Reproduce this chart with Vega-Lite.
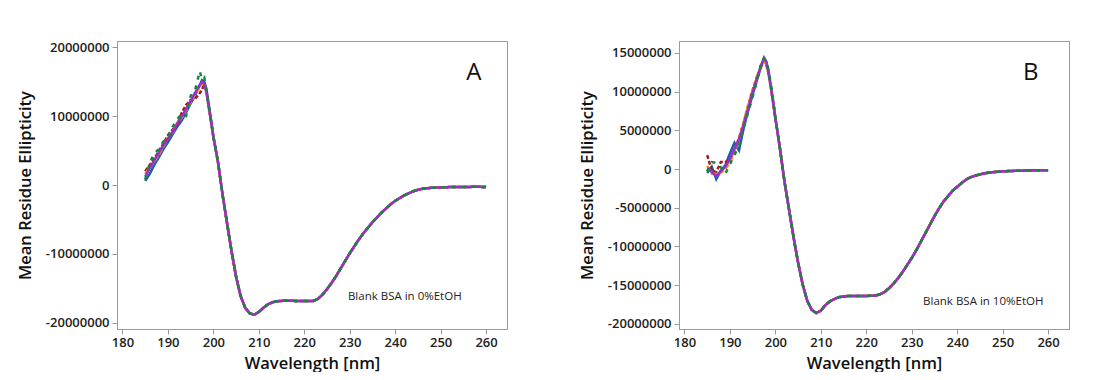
{
"$schema": "https://vega.github.io/schema/vega-lite/v6.json",
"background": "white",
"padding": {"left": 16, "top": 40, "right": 0, "bottom": 0},
"spacing": 70,
"config": {
  "font": "Open Sans",
  "view": {"stroke": "#9a9a9a", "strokeWidth": 1},
  "axis": {"grid": false, "domainColor": "#9a9a9a", "tickColor": "#9a9a9a", "tickSize": 5, "labelFont": "Open Sans", "labelFontSize": 13, "labelFontWeight": 600, "labelColor": "#222222", "titleFont": "Open Sans", "titleFontSize": 16.5, "titleFontWeight": 600, "titleColor": "#111111"},
  "axisX": {"labelPadding": 2, "titlePadding": 6},
  "axisY": {"labelPadding": 3, "titlePadding": 12}
},
"datasets": {
"A": [
{"s":"b","w":185,"v":600000},{"s":"b","w":186,"v":1600000},{"s":"b","w":187,"v":2900000},{"s":"b","w":188,"v":4000000},{"s":"b","w":189,"v":5200000},{"s":"b","w":190,"v":6200000},{"s":"b","w":191,"v":7300000},{"s":"b","w":192,"v":8400000},{"s":"b","w":193,"v":9300000},{"s":"b","w":194,"v":10500000},{"s":"b","w":195,"v":11800000},{"s":"b","w":196,"v":13000000},{"s":"b","w":197,"v":14400000},{"s":"b","w":197.5,"v":15200000},{"s":"b","w":198,"v":15000000},{"s":"b","w":198.5,"v":13800000},{"s":"b","w":199,"v":11600000},{"s":"b","w":199.5,"v":9400000},{"s":"b","w":200,"v":7000000},
{"s":"b","w":201,"v":3400000},{"s":"b","w":202,"v":-1300000},{"s":"b","w":203,"v":-5500000},{"s":"b","w":204,"v":-9600000},{"s":"b","w":205,"v":-13300000},{"s":"b","w":206,"v":-16100000},{"s":"b","w":207,"v":-17800000},{"s":"b","w":208,"v":-18600000},{"s":"b","w":209,"v":-18800000},{"s":"b","w":210,"v":-18400000},{"s":"b","w":211,"v":-17800000},{"s":"b","w":212,"v":-17300000},{"s":"b","w":213,"v":-17000000},{"s":"b","w":214,"v":-16850000},{"s":"b","w":216,"v":-16750000},{"s":"b","w":218,"v":-16800000},{"s":"b","w":220,"v":-16800000},{"s":"b","w":222,"v":-16800000},{"s":"b","w":223,"v":-16500000},{"s":"b","w":224,"v":-15900000},{"s":"b","w":225,"v":-15100000},{"s":"b","w":226,"v":-14200000},{"s":"b","w":227,"v":-13200000},{"s":"b","w":228,"v":-12100000},{"s":"b","w":229,"v":-11000000},{"s":"b","w":230,"v":-9900000},{"s":"b","w":231,"v":-8900000},{"s":"b","w":232,"v":-7900000},{"s":"b","w":233,"v":-7000000},{"s":"b","w":234,"v":-6200000},{"s":"b","w":235,"v":-5400000},{"s":"b","w":236,"v":-4700000},{"s":"b","w":237,"v":-4000000},{"s":"b","w":238,"v":-3400000},{"s":"b","w":239,"v":-2800000},{"s":"b","w":240,"v":-2300000},{"s":"b","w":241,"v":-1900000},{"s":"b","w":242,"v":-1500000},{"s":"b","w":243,"v":-1200000},{"s":"b","w":244,"v":-900000},{"s":"b","w":245,"v":-700000},{"s":"b","w":246,"v":-550000},{"s":"b","w":248,"v":-400000},{"s":"b","w":250,"v":-350000},{"s":"b","w":252,"v":-300000},{"s":"b","w":255,"v":-300000},{"s":"b","w":258,"v":-250000},{"s":"b","w":260,"v":-300000},
{"s":"r","w":185,"v":2000000},{"s":"r","w":186,"v":2900000},{"s":"r","w":187,"v":3800000},{"s":"r","w":188,"v":4900000},{"s":"r","w":189,"v":6000000},{"s":"r","w":190,"v":7200000},{"s":"r","w":191,"v":8000000},{"s":"r","w":192,"v":8600000},{"s":"r","w":193,"v":10400000},{"s":"r","w":194,"v":11600000},{"s":"r","w":195,"v":12300000},{"s":"r","w":196,"v":12500000},{"s":"r","w":197,"v":13300000},{"s":"r","w":197.5,"v":13800000},{"s":"r","w":198,"v":14600000},{"s":"r","w":198.5,"v":13500000},{"s":"r","w":199,"v":11300000},{"s":"r","w":199.5,"v":9200000},{"s":"r","w":200,"v":7000000},
{"s":"r","w":201,"v":3400000},{"s":"r","w":202,"v":-1300000},{"s":"r","w":203,"v":-5500000},{"s":"r","w":204,"v":-9600000},{"s":"r","w":205,"v":-13300000},{"s":"r","w":206,"v":-16100000},{"s":"r","w":207,"v":-17800000},{"s":"r","w":208,"v":-18600000},{"s":"r","w":209,"v":-18800000},{"s":"r","w":210,"v":-18400000},{"s":"r","w":211,"v":-17800000},{"s":"r","w":212,"v":-17300000},{"s":"r","w":213,"v":-17000000},{"s":"r","w":214,"v":-16850000},{"s":"r","w":216,"v":-16750000},{"s":"r","w":218,"v":-16800000},{"s":"r","w":220,"v":-16800000},{"s":"r","w":222,"v":-16800000},{"s":"r","w":223,"v":-16500000},{"s":"r","w":224,"v":-15900000},{"s":"r","w":225,"v":-15100000},{"s":"r","w":226,"v":-14200000},{"s":"r","w":227,"v":-13200000},{"s":"r","w":228,"v":-12100000},{"s":"r","w":229,"v":-11000000},{"s":"r","w":230,"v":-9900000},{"s":"r","w":231,"v":-8900000},{"s":"r","w":232,"v":-7900000},{"s":"r","w":233,"v":-7000000},{"s":"r","w":234,"v":-6200000},{"s":"r","w":235,"v":-5400000},{"s":"r","w":236,"v":-4700000},{"s":"r","w":237,"v":-4000000},{"s":"r","w":238,"v":-3400000},{"s":"r","w":239,"v":-2800000},{"s":"r","w":240,"v":-2300000},{"s":"r","w":241,"v":-1900000},{"s":"r","w":242,"v":-1500000},{"s":"r","w":243,"v":-1200000},{"s":"r","w":244,"v":-900000},{"s":"r","w":245,"v":-700000},{"s":"r","w":246,"v":-550000},{"s":"r","w":248,"v":-400000},{"s":"r","w":250,"v":-350000},{"s":"r","w":252,"v":-300000},{"s":"r","w":255,"v":-300000},{"s":"r","w":258,"v":-250000},{"s":"r","w":260,"v":-300000},
{"s":"o","w":185,"v":1600000},{"s":"o","w":186,"v":2500000},{"s":"o","w":187,"v":3400000},{"s":"o","w":188,"v":4400000},{"s":"o","w":189,"v":5600000},{"s":"o","w":190,"v":6800000},{"s":"o","w":191,"v":7600000},{"s":"o","w":192,"v":9000000},{"s":"o","w":193,"v":9700000},{"s":"o","w":194,"v":10800000},{"s":"o","w":195,"v":12000000},{"s":"o","w":196,"v":13200000},{"s":"o","w":197,"v":14200000},{"s":"o","w":197.5,"v":14800000},{"s":"o","w":198,"v":14600000},{"s":"o","w":198.5,"v":13300000},{"s":"o","w":199,"v":11000000},{"s":"o","w":199.5,"v":9000000},{"s":"o","w":200,"v":7000000},
{"s":"o","w":201,"v":3400000},{"s":"o","w":202,"v":-1300000},{"s":"o","w":203,"v":-5500000},{"s":"o","w":204,"v":-9600000},{"s":"o","w":205,"v":-13300000},{"s":"o","w":206,"v":-16100000},{"s":"o","w":207,"v":-17800000},{"s":"o","w":208,"v":-18600000},{"s":"o","w":209,"v":-18800000},{"s":"o","w":210,"v":-18400000},{"s":"o","w":211,"v":-17800000},{"s":"o","w":212,"v":-17300000},{"s":"o","w":213,"v":-17000000},{"s":"o","w":214,"v":-16850000},{"s":"o","w":216,"v":-16750000},{"s":"o","w":218,"v":-16800000},{"s":"o","w":220,"v":-16800000},{"s":"o","w":222,"v":-16800000},{"s":"o","w":223,"v":-16500000},{"s":"o","w":224,"v":-15900000},{"s":"o","w":225,"v":-15100000},{"s":"o","w":226,"v":-14200000},{"s":"o","w":227,"v":-13200000},{"s":"o","w":228,"v":-12100000},{"s":"o","w":229,"v":-11000000},{"s":"o","w":230,"v":-9900000},{"s":"o","w":231,"v":-8900000},{"s":"o","w":232,"v":-7900000},{"s":"o","w":233,"v":-7000000},{"s":"o","w":234,"v":-6200000},{"s":"o","w":235,"v":-5400000},{"s":"o","w":236,"v":-4700000},{"s":"o","w":237,"v":-4000000},{"s":"o","w":238,"v":-3400000},{"s":"o","w":239,"v":-2800000},{"s":"o","w":240,"v":-2300000},{"s":"o","w":241,"v":-1900000},{"s":"o","w":242,"v":-1500000},{"s":"o","w":243,"v":-1200000},{"s":"o","w":244,"v":-900000},{"s":"o","w":245,"v":-700000},{"s":"o","w":246,"v":-550000},{"s":"o","w":248,"v":-400000},{"s":"o","w":250,"v":-350000},{"s":"o","w":252,"v":-300000},{"s":"o","w":255,"v":-300000},{"s":"o","w":258,"v":-250000},{"s":"o","w":260,"v":-300000},
{"s":"p","w":185,"v":1200000},{"s":"p","w":186,"v":2400000},{"s":"p","w":187,"v":3600000},{"s":"p","w":188,"v":4700000},{"s":"p","w":189,"v":5800000},{"s":"p","w":190,"v":6700000},{"s":"p","w":191,"v":7700000},{"s":"p","w":192,"v":8800000},{"s":"p","w":193,"v":9900000},{"s":"p","w":194,"v":11000000},{"s":"p","w":195,"v":12200000},{"s":"p","w":196,"v":13400000},{"s":"p","w":197,"v":14500000},{"s":"p","w":197.5,"v":15000000},{"s":"p","w":198,"v":14700000},{"s":"p","w":198.5,"v":13400000},{"s":"p","w":199,"v":11200000},{"s":"p","w":199.5,"v":9200000},{"s":"p","w":200,"v":7000000},
{"s":"p","w":201,"v":3400000},{"s":"p","w":202,"v":-1300000},{"s":"p","w":203,"v":-5500000},{"s":"p","w":204,"v":-9600000},{"s":"p","w":205,"v":-13300000},{"s":"p","w":206,"v":-16100000},{"s":"p","w":207,"v":-17800000},{"s":"p","w":208,"v":-18600000},{"s":"p","w":209,"v":-18800000},{"s":"p","w":210,"v":-18400000},{"s":"p","w":211,"v":-17800000},{"s":"p","w":212,"v":-17300000},{"s":"p","w":213,"v":-17000000},{"s":"p","w":214,"v":-16850000},{"s":"p","w":216,"v":-16750000},{"s":"p","w":218,"v":-16800000},{"s":"p","w":220,"v":-16800000},{"s":"p","w":222,"v":-16800000},{"s":"p","w":223,"v":-16500000},{"s":"p","w":224,"v":-15900000},{"s":"p","w":225,"v":-15100000},{"s":"p","w":226,"v":-14200000},{"s":"p","w":227,"v":-13200000},{"s":"p","w":228,"v":-12100000},{"s":"p","w":229,"v":-11000000},{"s":"p","w":230,"v":-9900000},{"s":"p","w":231,"v":-8900000},{"s":"p","w":232,"v":-7900000},{"s":"p","w":233,"v":-7000000},{"s":"p","w":234,"v":-6200000},{"s":"p","w":235,"v":-5400000},{"s":"p","w":236,"v":-4700000},{"s":"p","w":237,"v":-4000000},{"s":"p","w":238,"v":-3400000},{"s":"p","w":239,"v":-2800000},{"s":"p","w":240,"v":-2300000},{"s":"p","w":241,"v":-1900000},{"s":"p","w":242,"v":-1500000},{"s":"p","w":243,"v":-1200000},{"s":"p","w":244,"v":-900000},{"s":"p","w":245,"v":-700000},{"s":"p","w":246,"v":-550000},{"s":"p","w":248,"v":-400000},{"s":"p","w":250,"v":-350000},{"s":"p","w":252,"v":-300000},{"s":"p","w":255,"v":-300000},{"s":"p","w":258,"v":-250000},{"s":"p","w":260,"v":-300000},
{"s":"g","w":185,"v":800000},{"s":"g","w":186,"v":3200000},{"s":"g","w":187,"v":4600000},{"s":"g","w":188,"v":5200000},{"s":"g","w":189,"v":6300000},{"s":"g","w":190,"v":6900000},{"s":"g","w":191,"v":8400000},{"s":"g","w":192,"v":9500000},{"s":"g","w":193,"v":10300000},{"s":"g","w":194,"v":10000000},{"s":"g","w":195,"v":12900000},{"s":"g","w":196,"v":13800000},{"s":"g","w":197,"v":16500000},{"s":"g","w":197.5,"v":15300000},{"s":"g","w":198,"v":15600000},{"s":"g","w":198.5,"v":13600000},{"s":"g","w":199,"v":11400000},{"s":"g","w":199.5,"v":9300000},{"s":"g","w":200,"v":7000000},
{"s":"g","w":201,"v":3400000},{"s":"g","w":202,"v":-1300000},{"s":"g","w":203,"v":-5500000},{"s":"g","w":204,"v":-9600000},{"s":"g","w":205,"v":-13300000},{"s":"g","w":206,"v":-16100000},{"s":"g","w":207,"v":-17800000},{"s":"g","w":208,"v":-18600000},{"s":"g","w":209,"v":-18800000},{"s":"g","w":210,"v":-18400000},{"s":"g","w":211,"v":-17800000},{"s":"g","w":212,"v":-17300000},{"s":"g","w":213,"v":-17000000},{"s":"g","w":214,"v":-16850000},{"s":"g","w":216,"v":-16750000},{"s":"g","w":218,"v":-16800000},{"s":"g","w":220,"v":-16800000},{"s":"g","w":222,"v":-16800000},{"s":"g","w":223,"v":-16500000},{"s":"g","w":224,"v":-15900000},{"s":"g","w":225,"v":-15100000},{"s":"g","w":226,"v":-14200000},{"s":"g","w":227,"v":-13200000},{"s":"g","w":228,"v":-12100000},{"s":"g","w":229,"v":-11000000},{"s":"g","w":230,"v":-9900000},{"s":"g","w":231,"v":-8900000},{"s":"g","w":232,"v":-7900000},{"s":"g","w":233,"v":-7000000},{"s":"g","w":234,"v":-6200000},{"s":"g","w":235,"v":-5400000},{"s":"g","w":236,"v":-4700000},{"s":"g","w":237,"v":-4000000},{"s":"g","w":238,"v":-3400000},{"s":"g","w":239,"v":-2800000},{"s":"g","w":240,"v":-2300000},{"s":"g","w":241,"v":-1900000},{"s":"g","w":242,"v":-1500000},{"s":"g","w":243,"v":-1200000},{"s":"g","w":244,"v":-900000},{"s":"g","w":245,"v":-700000},{"s":"g","w":246,"v":-550000},{"s":"g","w":248,"v":-400000},{"s":"g","w":250,"v":-350000},{"s":"g","w":252,"v":-300000},{"s":"g","w":255,"v":-300000},{"s":"g","w":258,"v":-250000},{"s":"g","w":260,"v":-300000}
],
"B": [
{"s":"b","w":185,"v":-500000},{"s":"b","w":186,"v":300000},{"s":"b","w":187,"v":-1300000},{"s":"b","w":188,"v":-200000},{"s":"b","w":189,"v":500000},{"s":"b","w":190,"v":2000000},{"s":"b","w":191,"v":3400000},{"s":"b","w":192,"v":2400000},{"s":"b","w":193,"v":5200000},{"s":"b","w":194,"v":7500000},{"s":"b","w":195,"v":9600000},{"s":"b","w":196,"v":11600000},{"s":"b","w":197,"v":13500000},{"s":"b","w":197.5,"v":14200000},{"s":"b","w":198,"v":13800000},{"s":"b","w":198.5,"v":12600000},{"s":"b","w":199,"v":10700000},{"s":"b","w":199.5,"v":8800000},{"s":"b","w":200,"v":6600000},
{"s":"b","w":201,"v":2700000},{"s":"b","w":202,"v":-1600000},{"s":"b","w":203,"v":-5200000},{"s":"b","w":204,"v":-8800000},{"s":"b","w":205,"v":-12100000},{"s":"b","w":206,"v":-14900000},{"s":"b","w":207,"v":-17000000},{"s":"b","w":208,"v":-18200000},{"s":"b","w":209,"v":-18600000},{"s":"b","w":210,"v":-18300000},{"s":"b","w":211,"v":-17600000},{"s":"b","w":212,"v":-17100000},{"s":"b","w":213,"v":-16800000},{"s":"b","w":214,"v":-16550000},{"s":"b","w":216,"v":-16400000},{"s":"b","w":218,"v":-16400000},{"s":"b","w":220,"v":-16400000},{"s":"b","w":222,"v":-16350000},{"s":"b","w":223,"v":-16200000},{"s":"b","w":224,"v":-15900000},{"s":"b","w":225,"v":-15400000},{"s":"b","w":226,"v":-14800000},{"s":"b","w":227,"v":-14100000},{"s":"b","w":228,"v":-13300000},{"s":"b","w":229,"v":-12400000},{"s":"b","w":230,"v":-11500000},{"s":"b","w":231,"v":-10500000},{"s":"b","w":232,"v":-9400000},{"s":"b","w":233,"v":-8300000},{"s":"b","w":234,"v":-7200000},{"s":"b","w":235,"v":-6100000},{"s":"b","w":236,"v":-5100000},{"s":"b","w":237,"v":-4200000},{"s":"b","w":238,"v":-3500000},{"s":"b","w":239,"v":-2800000},{"s":"b","w":240,"v":-2300000},{"s":"b","w":241,"v":-1800000},{"s":"b","w":242,"v":-1350000},{"s":"b","w":243,"v":-1050000},{"s":"b","w":244,"v":-850000},{"s":"b","w":245,"v":-700000},{"s":"b","w":246,"v":-550000},{"s":"b","w":248,"v":-400000},{"s":"b","w":250,"v":-300000},{"s":"b","w":252,"v":-250000},{"s":"b","w":255,"v":-200000},{"s":"b","w":258,"v":-150000},{"s":"b","w":260,"v":-150000},
{"s":"r","w":185,"v":1800000},{"s":"r","w":186,"v":-200000},{"s":"r","w":187,"v":-400000},{"s":"r","w":188,"v":900000},{"s":"r","w":189,"v":900000},{"s":"r","w":190,"v":1200000},{"s":"r","w":191,"v":2400000},{"s":"r","w":192,"v":4000000},{"s":"r","w":193,"v":5900000},{"s":"r","w":194,"v":8100000},{"s":"r","w":195,"v":10200000},{"s":"r","w":196,"v":12000000},{"s":"r","w":197,"v":13400000},{"s":"r","w":197.5,"v":13900000},{"s":"r","w":198,"v":13500000},{"s":"r","w":198.5,"v":12300000},{"s":"r","w":199,"v":10500000},{"s":"r","w":199.5,"v":8600000},{"s":"r","w":200,"v":6600000},
{"s":"r","w":201,"v":2700000},{"s":"r","w":202,"v":-1600000},{"s":"r","w":203,"v":-5200000},{"s":"r","w":204,"v":-8800000},{"s":"r","w":205,"v":-12100000},{"s":"r","w":206,"v":-14900000},{"s":"r","w":207,"v":-17000000},{"s":"r","w":208,"v":-18200000},{"s":"r","w":209,"v":-18600000},{"s":"r","w":210,"v":-18300000},{"s":"r","w":211,"v":-17600000},{"s":"r","w":212,"v":-17100000},{"s":"r","w":213,"v":-16800000},{"s":"r","w":214,"v":-16550000},{"s":"r","w":216,"v":-16400000},{"s":"r","w":218,"v":-16400000},{"s":"r","w":220,"v":-16400000},{"s":"r","w":222,"v":-16350000},{"s":"r","w":223,"v":-16200000},{"s":"r","w":224,"v":-15900000},{"s":"r","w":225,"v":-15400000},{"s":"r","w":226,"v":-14800000},{"s":"r","w":227,"v":-14100000},{"s":"r","w":228,"v":-13300000},{"s":"r","w":229,"v":-12400000},{"s":"r","w":230,"v":-11500000},{"s":"r","w":231,"v":-10500000},{"s":"r","w":232,"v":-9400000},{"s":"r","w":233,"v":-8300000},{"s":"r","w":234,"v":-7200000},{"s":"r","w":235,"v":-6100000},{"s":"r","w":236,"v":-5100000},{"s":"r","w":237,"v":-4200000},{"s":"r","w":238,"v":-3500000},{"s":"r","w":239,"v":-2800000},{"s":"r","w":240,"v":-2300000},{"s":"r","w":241,"v":-1800000},{"s":"r","w":242,"v":-1350000},{"s":"r","w":243,"v":-1050000},{"s":"r","w":244,"v":-850000},{"s":"r","w":245,"v":-700000},{"s":"r","w":246,"v":-550000},{"s":"r","w":248,"v":-400000},{"s":"r","w":250,"v":-300000},{"s":"r","w":252,"v":-250000},{"s":"r","w":255,"v":-200000},{"s":"r","w":258,"v":-150000},{"s":"r","w":260,"v":-150000},
{"s":"o","w":185,"v":400000},{"s":"o","w":186,"v":-600000},{"s":"o","w":187,"v":-600000},{"s":"o","w":188,"v":-500000},{"s":"o","w":189,"v":0},{"s":"o","w":190,"v":800000},{"s":"o","w":191,"v":2200000},{"s":"o","w":192,"v":3900000},{"s":"o","w":193,"v":6000000},{"s":"o","w":194,"v":8300000},{"s":"o","w":195,"v":10200000},{"s":"o","w":196,"v":12100000},{"s":"o","w":197,"v":13400000},{"s":"o","w":197.5,"v":13800000},{"s":"o","w":198,"v":13600000},{"s":"o","w":198.5,"v":12400000},{"s":"o","w":199,"v":10500000},{"s":"o","w":199.5,"v":8600000},{"s":"o","w":200,"v":6600000},
{"s":"o","w":201,"v":2700000},{"s":"o","w":202,"v":-1600000},{"s":"o","w":203,"v":-5200000},{"s":"o","w":204,"v":-8800000},{"s":"o","w":205,"v":-12100000},{"s":"o","w":206,"v":-14900000},{"s":"o","w":207,"v":-17000000},{"s":"o","w":208,"v":-18200000},{"s":"o","w":209,"v":-18600000},{"s":"o","w":210,"v":-18300000},{"s":"o","w":211,"v":-17600000},{"s":"o","w":212,"v":-17100000},{"s":"o","w":213,"v":-16800000},{"s":"o","w":214,"v":-16550000},{"s":"o","w":216,"v":-16400000},{"s":"o","w":218,"v":-16400000},{"s":"o","w":220,"v":-16400000},{"s":"o","w":222,"v":-16350000},{"s":"o","w":223,"v":-16200000},{"s":"o","w":224,"v":-15900000},{"s":"o","w":225,"v":-15400000},{"s":"o","w":226,"v":-14800000},{"s":"o","w":227,"v":-14100000},{"s":"o","w":228,"v":-13300000},{"s":"o","w":229,"v":-12400000},{"s":"o","w":230,"v":-11500000},{"s":"o","w":231,"v":-10500000},{"s":"o","w":232,"v":-9400000},{"s":"o","w":233,"v":-8300000},{"s":"o","w":234,"v":-7200000},{"s":"o","w":235,"v":-6100000},{"s":"o","w":236,"v":-5100000},{"s":"o","w":237,"v":-4200000},{"s":"o","w":238,"v":-3500000},{"s":"o","w":239,"v":-2800000},{"s":"o","w":240,"v":-2300000},{"s":"o","w":241,"v":-1800000},{"s":"o","w":242,"v":-1350000},{"s":"o","w":243,"v":-1050000},{"s":"o","w":244,"v":-850000},{"s":"o","w":245,"v":-700000},{"s":"o","w":246,"v":-550000},{"s":"o","w":248,"v":-400000},{"s":"o","w":250,"v":-300000},{"s":"o","w":252,"v":-250000},{"s":"o","w":255,"v":-200000},{"s":"o","w":258,"v":-150000},{"s":"o","w":260,"v":-150000},
{"s":"p","w":185,"v":100000},{"s":"p","w":186,"v":-400000},{"s":"p","w":187,"v":-900000},{"s":"p","w":188,"v":-300000},{"s":"p","w":189,"v":300000},{"s":"p","w":190,"v":1300000},{"s":"p","w":191,"v":2600000},{"s":"p","w":192,"v":3800000},{"s":"p","w":193,"v":5700000},{"s":"p","w":194,"v":7800000},{"s":"p","w":195,"v":9900000},{"s":"p","w":196,"v":11800000},{"s":"p","w":197,"v":13600000},{"s":"p","w":197.5,"v":14400000},{"s":"p","w":198,"v":13900000},{"s":"p","w":198.5,"v":12500000},{"s":"p","w":199,"v":10600000},{"s":"p","w":199.5,"v":8700000},{"s":"p","w":200,"v":6600000},
{"s":"p","w":201,"v":2700000},{"s":"p","w":202,"v":-1600000},{"s":"p","w":203,"v":-5200000},{"s":"p","w":204,"v":-8800000},{"s":"p","w":205,"v":-12100000},{"s":"p","w":206,"v":-14900000},{"s":"p","w":207,"v":-17000000},{"s":"p","w":208,"v":-18200000},{"s":"p","w":209,"v":-18600000},{"s":"p","w":210,"v":-18300000},{"s":"p","w":211,"v":-17600000},{"s":"p","w":212,"v":-17100000},{"s":"p","w":213,"v":-16800000},{"s":"p","w":214,"v":-16550000},{"s":"p","w":216,"v":-16400000},{"s":"p","w":218,"v":-16400000},{"s":"p","w":220,"v":-16400000},{"s":"p","w":222,"v":-16350000},{"s":"p","w":223,"v":-16200000},{"s":"p","w":224,"v":-15900000},{"s":"p","w":225,"v":-15400000},{"s":"p","w":226,"v":-14800000},{"s":"p","w":227,"v":-14100000},{"s":"p","w":228,"v":-13300000},{"s":"p","w":229,"v":-12400000},{"s":"p","w":230,"v":-11500000},{"s":"p","w":231,"v":-10500000},{"s":"p","w":232,"v":-9400000},{"s":"p","w":233,"v":-8300000},{"s":"p","w":234,"v":-7200000},{"s":"p","w":235,"v":-6100000},{"s":"p","w":236,"v":-5100000},{"s":"p","w":237,"v":-4200000},{"s":"p","w":238,"v":-3500000},{"s":"p","w":239,"v":-2800000},{"s":"p","w":240,"v":-2300000},{"s":"p","w":241,"v":-1800000},{"s":"p","w":242,"v":-1350000},{"s":"p","w":243,"v":-1050000},{"s":"p","w":244,"v":-850000},{"s":"p","w":245,"v":-700000},{"s":"p","w":246,"v":-550000},{"s":"p","w":248,"v":-400000},{"s":"p","w":250,"v":-300000},{"s":"p","w":252,"v":-250000},{"s":"p","w":255,"v":-200000},{"s":"p","w":258,"v":-150000},{"s":"p","w":260,"v":-150000},
{"s":"g","w":185,"v":-300000},{"s":"g","w":186,"v":900000},{"s":"g","w":187,"v":800000},{"s":"g","w":188,"v":200000},{"s":"g","w":189,"v":-600000},{"s":"g","w":190,"v":600000},{"s":"g","w":191,"v":1800000},{"s":"g","w":192,"v":3000000},{"s":"g","w":193,"v":5300000},{"s":"g","w":194,"v":7300000},{"s":"g","w":195,"v":9300000},{"s":"g","w":196,"v":11500000},{"s":"g","w":197,"v":14000000},{"s":"g","w":197.5,"v":14300000},{"s":"g","w":198,"v":13900000},{"s":"g","w":198.5,"v":12800000},{"s":"g","w":199,"v":11000000},{"s":"g","w":199.5,"v":9000000},{"s":"g","w":200,"v":6600000},
{"s":"g","w":201,"v":2700000},{"s":"g","w":202,"v":-1600000},{"s":"g","w":203,"v":-5200000},{"s":"g","w":204,"v":-8800000},{"s":"g","w":205,"v":-12100000},{"s":"g","w":206,"v":-14900000},{"s":"g","w":207,"v":-17000000},{"s":"g","w":208,"v":-18200000},{"s":"g","w":209,"v":-18600000},{"s":"g","w":210,"v":-18300000},{"s":"g","w":211,"v":-17600000},{"s":"g","w":212,"v":-17100000},{"s":"g","w":213,"v":-16800000},{"s":"g","w":214,"v":-16550000},{"s":"g","w":216,"v":-16400000},{"s":"g","w":218,"v":-16400000},{"s":"g","w":220,"v":-16400000},{"s":"g","w":222,"v":-16350000},{"s":"g","w":223,"v":-16200000},{"s":"g","w":224,"v":-15900000},{"s":"g","w":225,"v":-15400000},{"s":"g","w":226,"v":-14800000},{"s":"g","w":227,"v":-14100000},{"s":"g","w":228,"v":-13300000},{"s":"g","w":229,"v":-12400000},{"s":"g","w":230,"v":-11500000},{"s":"g","w":231,"v":-10500000},{"s":"g","w":232,"v":-9400000},{"s":"g","w":233,"v":-8300000},{"s":"g","w":234,"v":-7200000},{"s":"g","w":235,"v":-6100000},{"s":"g","w":236,"v":-5100000},{"s":"g","w":237,"v":-4200000},{"s":"g","w":238,"v":-3500000},{"s":"g","w":239,"v":-2800000},{"s":"g","w":240,"v":-2300000},{"s":"g","w":241,"v":-1800000},{"s":"g","w":242,"v":-1350000},{"s":"g","w":243,"v":-1050000},{"s":"g","w":244,"v":-850000},{"s":"g","w":245,"v":-700000},{"s":"g","w":246,"v":-550000},{"s":"g","w":248,"v":-400000},{"s":"g","w":250,"v":-300000},{"s":"g","w":252,"v":-250000},{"s":"g","w":255,"v":-200000},{"s":"g","w":258,"v":-150000},{"s":"g","w":260,"v":-150000}
],
"Abig": [{"t":"A","w":257.3,"v":16230000}],
"Anote": [{"t":"Blank BSA in 0%EtOH","w":229.6,"v":-16230000}],
"Bbig": [{"t":"B","w":256.2,"v":12410000}],
"Bnote": [{"t":"Blank BSA in 10%EtOH","w":232.5,"v":-17180000}]
},
"hconcat": [
{
"width": 390, "height": 288,
"layer": [
{"data": {"name": "A"}, "mark": {"type": "line", "strokeWidth": 2.5, "clip": true},
 "encoding": {
  "x": {"field": "w", "type": "quantitative", "scale": {"domain": [178.8, 264.6], "nice": false, "zero": false}, "axis": {"values": [180,190,200,210,220,230,240,250,260], "title": "Wavelength [nm]"}},
  "y": {"field": "v", "type": "quantitative", "scale": {"domain": [-20870000, 20870000], "nice": false, "zero": false}, "axis": {"values": [-20000000,-10000000,0,10000000,20000000], "title": "Mean Residue Ellipticity", "labelExpr": "(datum.value < 0 ? '-' : '') + format(abs(datum.value), 'd')"}},
  "color": {"field": "s", "type": "nominal", "scale": {"domain": ["b","r","o","p","g"], "range": ["#1b5fae","#a3191f","#e8941c","#9a2fc6","#138a3a"]}, "legend": null},
  "strokeDash": {"field": "s", "type": "nominal", "scale": {"domain": ["b","r","o","p","g"], "range": [[1,0],[4,2],[6,2],[1,0],[4,6]]}, "legend": null}
 }},
{"data": {"name": "Abig"}, "mark": {"type": "text", "fontSize": 24, "font": "Open Sans", "color": "#111111", "align": "center", "baseline": "middle"},
 "encoding": {"x": {"field": "w", "type": "quantitative"}, "y": {"field": "v", "type": "quantitative"}, "text": {"field": "t"}}},
{"data": {"name": "Anote"}, "mark": {"type": "text", "fontSize": 11.5, "font": "Open Sans", "color": "#222222", "align": "left", "baseline": "middle"},
 "encoding": {"x": {"field": "w", "type": "quantitative"}, "y": {"field": "v", "type": "quantitative"}, "text": {"field": "t"}}}
]
},
{
"width": 390, "height": 288,
"layer": [
{"data": {"name": "B"}, "mark": {"type": "line", "strokeWidth": 2.5, "clip": true},
 "encoding": {
  "x": {"field": "w", "type": "quantitative", "scale": {"domain": [178.8, 264.6], "nice": false, "zero": false}, "axis": {"values": [180,190,200,210,220,230,240,250,260], "title": "Wavelength [nm]"}},
  "y": {"field": "v", "type": "quantitative", "scale": {"domain": [-20670000, 16540000], "nice": false, "zero": false}, "axis": {"values": [-20000000,-15000000,-10000000,-5000000,0,5000000,10000000,15000000], "title": "Mean Residue Ellipticity", "labelExpr": "(datum.value < 0 ? '-' : '') + format(abs(datum.value), 'd')"}},
  "color": {"field": "s", "type": "nominal", "scale": {"domain": ["b","r","o","p","g"], "range": ["#1b5fae","#a3191f","#e8941c","#9a2fc6","#138a3a"]}, "legend": null},
  "strokeDash": {"field": "s", "type": "nominal", "scale": {"domain": ["b","r","o","p","g"], "range": [[1,0],[4,2],[6,2],[1,0],[4,6]]}, "legend": null}
 }},
{"data": {"name": "Bbig"}, "mark": {"type": "text", "fontSize": 24, "font": "Open Sans", "color": "#111111", "align": "center", "baseline": "middle"},
 "encoding": {"x": {"field": "w", "type": "quantitative"}, "y": {"field": "v", "type": "quantitative"}, "text": {"field": "t"}}},
{"data": {"name": "Bnote"}, "mark": {"type": "text", "fontSize": 11.5, "font": "Open Sans", "color": "#222222", "align": "left", "baseline": "middle"},
 "encoding": {"x": {"field": "w", "type": "quantitative"}, "y": {"field": "v", "type": "quantitative"}, "text": {"field": "t"}}}
]
}
]
}
